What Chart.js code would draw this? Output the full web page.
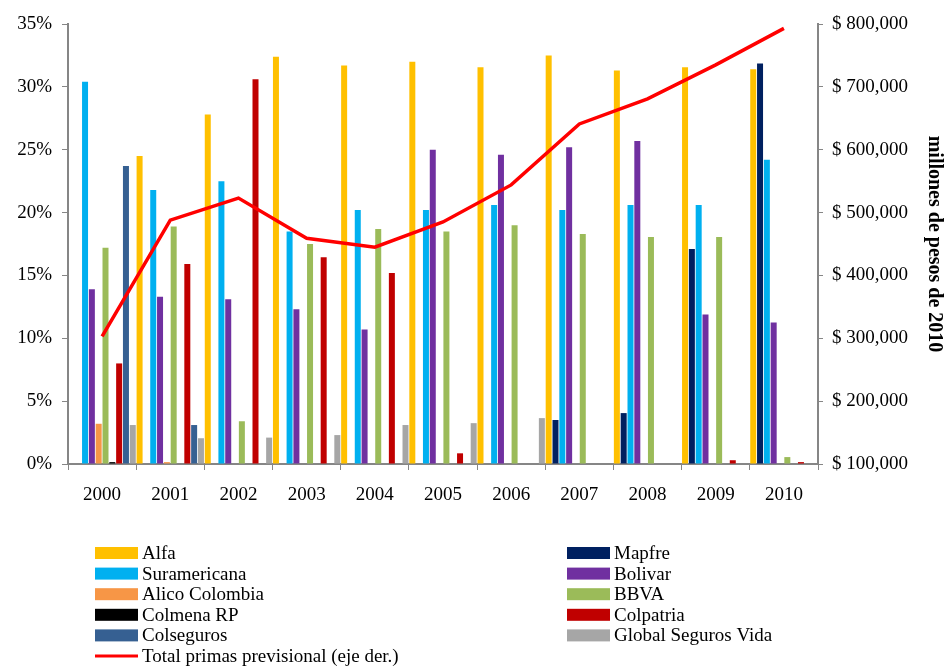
<!DOCTYPE html>
<html>
<head>
<meta charset="utf-8">
<script src="https://cdn.jsdelivr.net/npm/chart.js@4"></script>
<style>
  html, body { margin: 0; padding: 0; background: #fff; }
  #wrap { width: 946px; height: 666px; }
</style>
</head>
<body>
<div id="wrap"><canvas id="myChart" width="946" height="666"></canvas></div>
<script>
// years on the x axis
var years = ['2000', '2001', '2002', '2003', '2004', '2005', '2006', '2007', '2008', '2009', '2010'];

// market share (%) per company
var alfa        = [0, 24.5, 27.8, 32.4, 31.7, 32.0, 31.55, 32.5, 31.3, 31.55, 31.4];
var mapfre      = [0, 0, 0, 0, 0, 0, 0, 3.5, 4.05, 17.1, 31.85];
var suramericana = [30.4, 21.8, 22.5, 18.5, 20.2, 20.2, 20.6, 20.2, 20.6, 20.6, 24.2];
var bolivar     = [13.9, 13.3, 13.1, 12.3, 10.7, 25.0, 24.6, 25.2, 25.7, 11.9, 11.25];
var alico       = [3.2, 0.15, 0, 0, 0, 0, 0, 0, 0, 0, 0];
var bbva        = [17.2, 18.9, 3.4, 17.5, 18.7, 18.5, 19.0, 18.3, 18.05, 18.05, 0.55];
var colmena     = [0.15, 0, 0, 0, 0, 0, 0, 0, 0, 0, 0];
var colpatria   = [8.0, 15.9, 30.6, 16.45, 15.2, 0.85, 0, 0, 0, 0.3, 0.15];
var colseguros  = [23.7, 3.1, 0, 0, 0, 0, 0, 0, 0, 0, 0];
var globalVida  = [3.1, 2.05, 2.1, 2.3, 3.1, 3.25, 3.65, 0, 0, 0, 0];

// total premiums, millones de pesos de 2010 (right axis)
var totalPrimas = [303000, 488000, 523000, 459000, 445000, 485000, 544000, 641000, 681000, 735000, 793000];

var serif = '"Liberation Serif", "DejaVu Serif", serif';
var axisGray = '#868686';

function bar(label, data, color) {
    return {
        type: 'bar',
        label: label,
        data: data,
        backgroundColor: color,
        borderWidth: 0,
        yAxisID: 'y',
        order: 1,
        categoryPercentage: 1.0,
        barPercentage: 0.88
    };
}

// two column legend drawn under the chart
var twoColLegend = {
    id: 'twoColLegend',
    afterDraw: function (chart) {
        var c = chart.ctx;
        var sets = chart.data.datasets;
        c.save();
        c.font = '19px ' + serif;
        c.textBaseline = 'middle';
        c.fillStyle = '#000';
        for (var i = 0; i < sets.length; i++) {
            var col = i % 2;
            var row = Math.floor(i / 2);
            var x = col === 0 ? 95 : 567;
            var y = 553 + row * 20.6;
            if (sets[i].type === 'line') {
                c.strokeStyle = sets[i].borderColor;
                c.lineWidth = 3;
                c.beginPath();
                c.moveTo(x, y);
                c.lineTo(x + 43, y);
                c.stroke();
            } else {
                c.fillStyle = sets[i].backgroundColor;
                c.fillRect(x, y - 6, 43, 12);
            }
            c.fillStyle = '#000';
            c.fillText(sets[i].label, x + 47, y + 1);
        }
        c.restore();
    }
};

var ctx = document.getElementById('myChart').getContext('2d');
var myChart = new Chart(ctx, {
    data: {
        labels: years,
        datasets: [
            bar('Alfa', alfa, '#FFC000'),
            bar('Mapfre', mapfre, '#002060'),
            bar('Suramericana', suramericana, '#00B0F0'),
            bar('Bolivar', bolivar, '#7030A0'),
            bar('Alico Colombia', alico, '#F79646'),
            bar('BBVA', bbva, '#9BBB59'),
            bar('Colmena RP', colmena, '#000000'),
            bar('Colpatria', colpatria, '#C00000'),
            bar('Colseguros', colseguros, '#366092'),
            bar('Global Seguros Vida', globalVida, '#A6A6A6'),
            {
                type: 'line',
                label: 'Total primas previsional (eje der.)',
                data: totalPrimas,
                borderColor: '#FF0000',
                backgroundColor: '#FF0000',
                borderWidth: 3.5,
                pointRadius: 0,
                tension: 0,
                yAxisID: 'y1',
                order: 0
            }
        ]
    },
    options: {
        responsive: false,
        animation: false,
        layout: {
            padding: { left: 0, right: 0, top: 24, bottom: 152 }
        },
        plugins: {
            legend: { display: false },
            tooltip: { enabled: false }
        },
        scales: {
            x: {
                offset: true,
                grid: {
                    offset: true,
                    drawOnChartArea: false,
                    drawTicks: true,
                    tickLength: 6,
                    color: axisGray
                },
                border: { color: axisGray, width: 2 },
                ticks: {
                    padding: 14,
                    color: '#000',
                    font: { family: serif, size: 19 },
                    maxRotation: 0
                },
                afterFit: function (s) { s.height = 50; }
            },
            y: {
                position: 'left',
                min: 0,
                max: 35,
                grid: {
                    drawOnChartArea: false,
                    tickLength: 6,
                    color: axisGray
                },
                border: { color: axisGray, width: 2 },
                ticks: {
                    stepSize: 5,
                    padding: 10,
                    color: '#000',
                    font: { family: serif, size: 19 },
                    callback: function (v) { return v + '%'; }
                },
                afterFit: function (s) { s.width = 68; }
            },
            y1: {
                position: 'right',
                min: 100000,
                max: 800000,
                grid: {
                    drawOnChartArea: false,
                    tickLength: 5,
                    color: axisGray
                },
                border: { color: axisGray, width: 2 },
                ticks: {
                    stepSize: 100000,
                    padding: 9,
                    color: '#000',
                    font: { family: serif, size: 19 },
                    callback: function (v) { return '$ ' + v.toLocaleString('en-US'); }
                },
                title: {
                    display: true,
                    text: 'millones de pesos de 2010',
                    color: '#000',
                    font: { family: serif, size: 20, weight: 'bold' },
                    padding: { top: 0, bottom: 2 }
                },
                afterFit: function (s) { s.width = 128; }
            }
        }
    },
    plugins: [twoColLegend]
});
</script>
</body>
</html>
